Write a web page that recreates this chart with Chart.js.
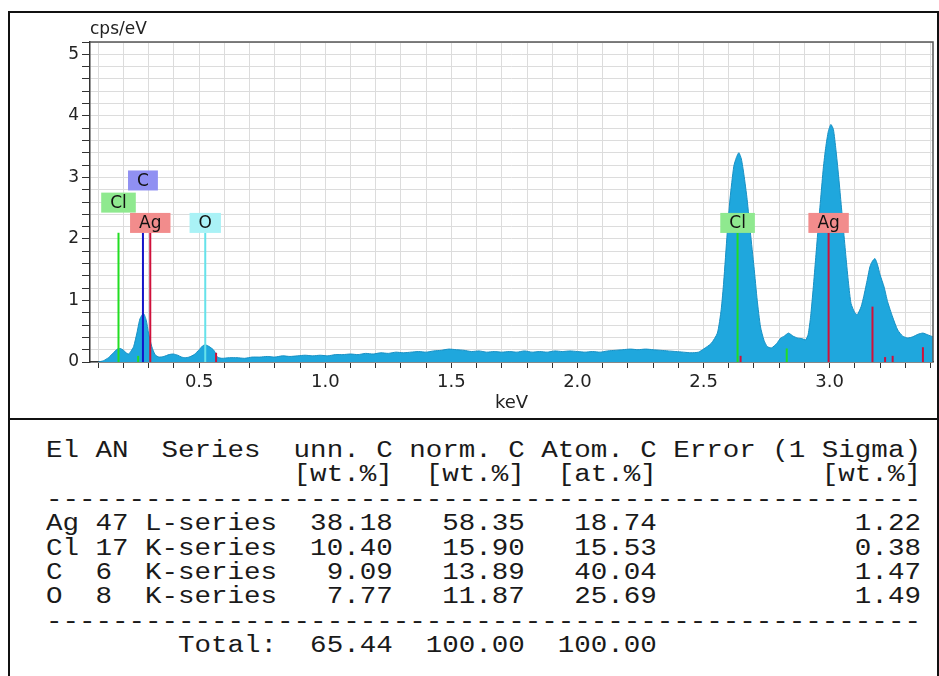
<!DOCTYPE html>
<html>
<head>
<meta charset="utf-8">
<script src="https://cdn.jsdelivr.net/npm/chart.js@4.4.1/dist/chart.umd.min.js"></script>
<style>
  html, body { margin: 0; padding: 0; background: #fff; }
  #page { position: relative; width: 939px; height: 676px; overflow: hidden; }
  #frame { position: absolute; left: 8px; top: 11px; width: 927px; height: 700px; border: 2px solid #111; }
  #divider { position: absolute; left: 8px; top: 418px; width: 931px; height: 2px; background: #111; }
  #chart { position: absolute; left: 0; top: 0; }
  #table {
    position: absolute; left: 46px; top: 439px; margin: 0;
    font: 23px/24.4px "Liberation Mono", "Courier New", monospace;
    color: #1a1a1a; transform: scaleX(1.196); transform-origin: 0 0;
  }
</style>
</head>
<body>
<div id="page">
  <div id="frame"></div>
  <div id="divider"></div>
  <canvas id="chart" width="939" height="420"></canvas>
  <pre id="table"></pre>
</div>
<script>
// spectrum (keV vs cps/eV)
const spectrumKeV = [
  0.10, 0.12, 0.14, 0.16, 0.175, 0.187, 0.20, 0.21, 0.22, 0.23, 0.24, 0.253, 0.265, 0.279, 0.29, 0.299,
  0.312, 0.325, 0.34, 0.36, 0.38, 0.397, 0.415, 0.43, 0.445, 0.46, 0.48, 0.50, 0.513, 0.524, 0.54, 0.556,
  0.564, 0.572, 0.59, 0.62, 0.65, 0.68, 0.71, 0.74, 0.77, 0.80, 0.83, 0.86, 0.89, 0.92, 0.95, 0.98,
  1.01, 1.04, 1.07, 1.10, 1.13, 1.16, 1.19, 1.22, 1.25, 1.28, 1.31, 1.34, 1.37, 1.40, 1.43, 1.46,
  1.49, 1.52, 1.55, 1.58, 1.61, 1.64, 1.67, 1.70, 1.73, 1.76, 1.79, 1.82, 1.85, 1.88, 1.91, 1.94,
  1.97, 2.00, 2.03, 2.06, 2.09, 2.12, 2.15, 2.18, 2.21, 2.24, 2.27, 2.30, 2.33, 2.36, 2.39, 2.42,
  2.45, 2.48, 2.50, 2.53, 2.555, 2.57, 2.58, 2.594, 2.605, 2.62, 2.63, 2.64, 2.65, 2.66, 2.673, 2.686,
  2.70, 2.713, 2.726, 2.74, 2.753, 2.77, 2.79, 2.806, 2.82, 2.837, 2.855, 2.873, 2.89, 2.905, 2.915, 2.925,
  2.935, 2.945, 2.955, 2.965, 2.975, 2.985, 2.995, 3.005, 3.015, 3.025, 3.035, 3.045, 3.055, 3.065, 3.075, 3.085,
  3.10, 3.11, 3.125, 3.135, 3.15, 3.16, 3.17, 3.18, 3.19, 3.20, 3.216, 3.23, 3.25, 3.27, 3.29, 3.31,
  3.33, 3.35, 3.37, 3.39, 3.41
];
const spectrumCps = [
  0.00, 0.02, 0.07, 0.15, 0.21, 0.22, 0.19, 0.15, 0.13, 0.18, 0.25, 0.47, 0.70, 0.79, 0.68, 0.47,
  0.25, 0.12, 0.08, 0.09, 0.12, 0.13, 0.11, 0.08, 0.07, 0.08, 0.12, 0.20, 0.26, 0.28, 0.25, 0.20,
  0.15, 0.08, 0.06, 0.07, 0.07, 0.06, 0.08, 0.08, 0.09, 0.08, 0.10, 0.09, 0.10, 0.11, 0.10, 0.11,
  0.10, 0.12, 0.12, 0.13, 0.12, 0.14, 0.13, 0.15, 0.14, 0.16, 0.15, 0.16, 0.17, 0.16, 0.18, 0.19,
  0.21, 0.20, 0.19, 0.17, 0.18, 0.16, 0.17, 0.16, 0.17, 0.16, 0.18, 0.16, 0.17, 0.16, 0.18, 0.17,
  0.18, 0.17, 0.16, 0.17, 0.16, 0.18, 0.19, 0.20, 0.21, 0.20, 0.21, 0.20, 0.19, 0.18, 0.17, 0.16,
  0.15, 0.16, 0.21, 0.30, 0.47, 0.85, 1.30, 2.10, 2.65, 3.18, 3.32, 3.40, 3.30, 3.05, 2.64, 2.10,
  1.55, 1.00, 0.57, 0.35, 0.25, 0.23, 0.30, 0.39, 0.42, 0.47, 0.42, 0.39, 0.38, 0.36, 0.45, 0.75,
  1.20, 1.70, 2.20, 2.68, 3.15, 3.50, 3.75, 3.86, 3.78, 3.45, 3.05, 2.60, 2.15, 1.70, 1.28, 0.95,
  0.80, 0.77, 0.90, 1.06, 1.35, 1.55, 1.64, 1.68, 1.58, 1.42, 1.22, 0.98, 0.73, 0.52, 0.42, 0.39,
  0.41, 0.45, 0.47, 0.44, 0.41
];

// element line markers
const markerElement = ['Cl', 'C', 'Ag', 'O', 'Cl', 'Ag', 'Cl', 'Ag', 'Ag', 'Cl', 'Ag', 'Ag', 'Ag', 'Ag'];
const markerKeV =     [0.180, 0.277, 0.306, 0.524, 2.635, 2.996, 0.258, 0.567, 2.647, 2.830, 3.170, 3.220, 3.250, 3.370];
const markerHeight =  [2.1, 2.1, 2.1, 2.1, 2.1, 2.1, 0.10, 0.15, 0.10, 0.22, 0.90, 0.08, 0.10, 0.24];

// labelled markers (first six)
const labelText = ['Cl', 'C', 'Ag', 'O', 'Cl', 'Ag'];
const labelKeV = [0.180, 0.277, 0.306, 0.524, 2.635, 2.996];

// axis ticks
const xMin = 0.067, xMax = 3.41, xStep = 0.1;
const yMin = 0, yMax = 5.2, yStep = 0.2;

// quantification table
const tableEl = ['Ag', 'Cl', 'C', 'O'];
const tableAN = [47, 17, 6, 8];
const tableSeries = ['L-series', 'K-series', 'K-series', 'K-series'];
const unnC = [38.18, 10.40, 9.09, 7.77];
const normC = [58.35, 15.90, 13.89, 11.87];
const atomC = [18.74, 15.53, 40.04, 25.69];
const errorSigma = [1.22, 0.38, 1.47, 1.49];
const totals = [65.44, 100.00, 100.00];

// styles
const lineColors = { Cl: '#22dd22', C: '#1414c8', Ag: '#d0103a', O: '#66e2ea' };
const boxColors = { Cl: '#8fe98f', C: '#9090f2', Ag: '#f28c8c', O: '#aaf2f6' };
const labelLevel = [2.59, 2.95, 2.26, 2.26, 2.26, 2.26];
const axisFont = { family: 'DejaVu Sans', size: 18 };

// table text
const dashes = '-'.repeat(53);
const lines = [
  'El AN  Series  unn. C norm. C Atom. C Error (1 Sigma)',
  ' '.repeat(15) + '[wt.%]  [wt.%]  [at.%]' + ' '.repeat(10) + '[wt.%]',
  dashes
];
tableEl.forEach((el, i) => {
  lines.push(el.padEnd(3) + String(tableAN[i]).padEnd(3) + tableSeries[i].padEnd(8) +
    unnC[i].toFixed(2).padStart(7) + normC[i].toFixed(2).padStart(8) +
    atomC[i].toFixed(2).padStart(8) + errorSigma[i].toFixed(2).padStart(16));
});
lines.push(dashes);
lines.push(' '.repeat(8) + 'Total:' + totals[0].toFixed(2).padStart(7) +
  totals[1].toFixed(2).padStart(8) + totals[2].toFixed(2).padStart(8));
document.getElementById('table').textContent = lines.join('\n');

// chart datasets
const spectrumData = spectrumKeV.map((x, i) => ({ x: x, y: spectrumCps[i] }));
const markerSets = markerKeV.map((e, i) => ({
  data: [{ x: e, y: 0 }, { x: e, y: markerHeight[i] }],
  borderColor: lineColors[markerElement[i]],
  borderWidth: 2,
  pointRadius: 0,
  fill: false,
  order: 1
}));

const frameAndLabels = {
  id: 'frameAndLabels',
  afterDatasetsDraw(chart) {
    const { ctx, chartArea, scales } = chart;
    ctx.save();
    // top and right border of plot
    ctx.strokeStyle = '#555';
    ctx.lineWidth = 1.5;
    ctx.beginPath();
    ctx.moveTo(chartArea.left, chartArea.top);
    ctx.lineTo(chartArea.right, chartArea.top);
    ctx.lineTo(chartArea.right, chartArea.bottom);
    ctx.stroke();
    // element label boxes
    ctx.font = '17px "DejaVu Sans"';
    ctx.textAlign = 'center';
    ctx.textBaseline = 'middle';
    labelText.forEach((t, i) => {
      const cx = scales.x.getPixelForValue(labelKeV[i]);
      const cy = scales.y.getPixelForValue(labelLevel[i]);
      const w = ctx.measureText(t).width + 18;
      ctx.fillStyle = boxColors[t];
      ctx.fillRect(cx - w / 2, cy - 10, w, 20);
      ctx.fillStyle = '#111';
      ctx.fillText(t, cx, cy + 1);
    });
    ctx.restore();
  }
};

new Chart(document.getElementById('chart'), {
  type: 'line',
  data: {
    datasets: [
      ...markerSets,
      {
        data: spectrumData,
        borderColor: '#1790c4',
        backgroundColor: '#1fa7dd',
        borderWidth: 1,
        pointRadius: 0,
        fill: 'origin',
        tension: 0.2,
        order: 10
      }
    ]
  },
  options: {
    responsive: false,
    animation: false,
    layout: { padding: { top: 12, right: 6, left: 0, bottom: 0 } },
    plugins: {
      legend: { display: false },
      tooltip: { enabled: false },
      title: {
        display: true,
        text: 'cps/eV',
        align: 'start',
        fullSize: false,
        color: '#222',
        font: { family: 'DejaVu Sans', size: 17, weight: 'normal' },
        padding: { top: 7, bottom: 2.6 }
      }
    },
    scales: {
      x: {
        type: 'linear',
        min: xMin,
        max: xMax,
        afterFit: (s) => { s.height = 58; },
        border: { color: '#333', width: 1.5 },
        grid: { color: '#dcdcdc', tickColor: '#333', tickLength: 6 },
        ticks: {
          stepSize: xStep,
          includeBounds: false,
          autoSkip: false,
          maxRotation: 0,
          padding: 4,
          color: '#222',
          font: axisFont,
          callback: (v) => Math.abs(v * 2 - Math.round(v * 2)) < 1e-6 ? v.toFixed(1) : ''
        },
        title: {
          display: true,
          text: 'keV',
          color: '#222',
          font: axisFont,
          padding: { top: 0, bottom: 6 }
        }
      },
      y: {
        min: yMin,
        max: yMax,
        afterFit: (s) => { s.width = 90; },
        border: { color: '#333', width: 1.5 },
        grid: { color: '#dcdcdc', tickColor: '#333', tickLength: 8 },
        ticks: {
          stepSize: yStep,
          includeBounds: false,
          autoSkip: false,
          padding: 3,
          color: '#222',
          font: { family: 'DejaVu Sans', size: 17 },
          callback: (v) => Math.abs(v - Math.round(v)) < 1e-6 ? String(Math.round(v)) : ''
        }
      }
    }
  },
  plugins: [frameAndLabels]
});
</script>
</body>
</html>
